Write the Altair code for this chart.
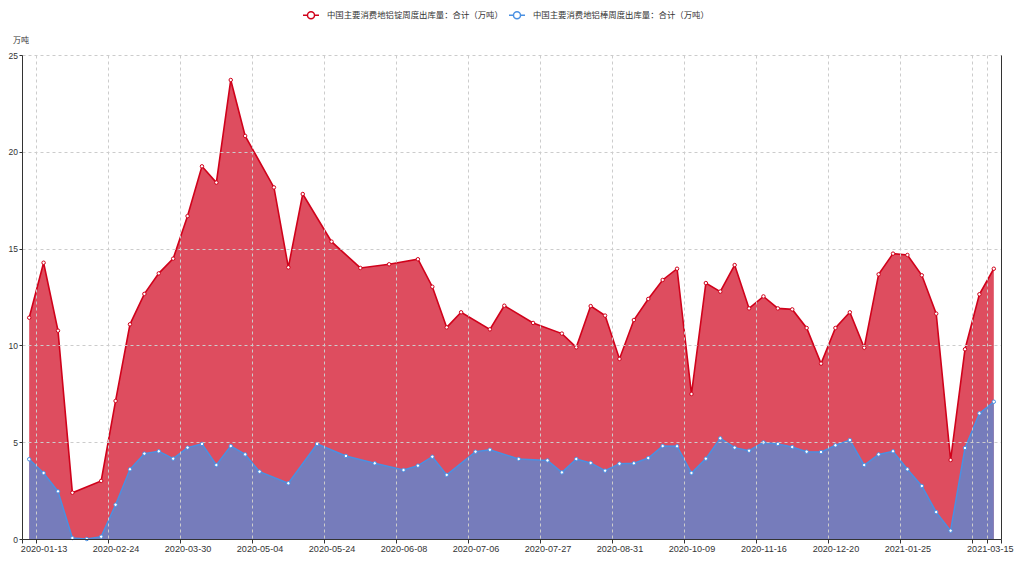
import altair as alt
import pandas as pd

ingot = [11.43, 14.27, 10.76, 2.39, None, 3.00, 7.13, 11.09, 12.66, 13.72,
         14.48, 16.68, 19.25, 18.41, 23.71, 20.82, None, 18.16, 14.03, 17.82,
         None, 15.36, None, 14.00, None, 14.19, None, 14.45, 13.03, 10.93,
         11.71, None, 10.83, 12.05, None, 11.16, None, 10.61, 9.90, 12.03,
         11.54, 9.30, 11.31, 12.40, 13.38, 13.96, 7.49, 13.22, 12.78, 14.15,
         11.91, 12.53, 11.91, 11.86, 10.90, 9.06, 10.90, 11.71, 9.88, 13.67,
         14.74, 14.67, 13.62, 11.64, 4.08, 9.80, 12.64, 13.96]
rod = [4.12, 3.41, 2.46, 0.05, 0.00, 0.12, 1.77, 3.60, 4.41, 4.53,
       4.15, 4.72, 4.91, 3.82, 4.80, 4.37, 3.48, None, 2.88, None,
       4.91, None, 4.29, None, 3.91, None, 3.56, 3.79, 4.25, 3.31,
       None, 4.51, 4.61, None, 4.13, None, 4.06, 3.44, 4.13, 3.93,
       3.53, 3.89, 3.91, 4.18, 4.80, 4.79, 3.41, 4.15, 5.20, 4.72,
       4.56, 4.99, 4.91, 4.75, 4.51, 4.49, 4.84, 5.11, 3.82, 4.37,
       4.53, 3.60, 2.74, 1.39, 0.43, 4.70, 6.49, 7.09]

label_idx = [1, 6, 11, 16, 21, 26, 31, 36, 41, 46, 51, 56, 61, 67]
label_txt = ["2020-01-13", "2020-02-24", "2020-03-30", "2020-05-04", "2020-05-24",
             "2020-06-08", "2020-07-06", "2020-07-27", "2020-08-31", "2020-10-09",
             "2020-11-16", "2020-12-20", "2021-01-25", "2021-03-15"]
tick_idx = [1, 6, 11, 16, 21, 26, 31, 36, 41, 46, 51, 56, 61, 66, 67]

s_ingot = "中国主要消费地铝锭周度出库量：合计（万吨）"
s_rod = "中国主要消费地铝棒周度出库量：合计（万吨）"
RED = "#d0021b"
BLUE = "#4a90e2"
FONT = "Liberation Sans, Noto Sans CJK SC, sans-serif"
CJK = "Noto Sans CJK SC, sans-serif"

df = pd.DataFrame({"idx": list(range(len(ingot))), "ingot": ingot, "rod": rod})

n = len(ingot)
xscale = alt.Scale(domain=[-0.5, n - 0.5], nice=False, zero=False)
yscale = alt.Scale(domain=[0, 25], nice=False)

tick_pos = [-0.5] + [i - 0.5 for i in tick_idx] + [n - 0.5]
label_expr = "[" + ",".join("'%s'" % t for t in label_txt) + "][indexof([" + \
    ",".join(str(i) for i in label_idx) + "], datum.value)]"

base = alt.Chart(df)

x_grid_axis = alt.Axis(values=tick_pos, grid=True, gridDash=[3, 3], gridColor="#cccccc",
                       ticks=True, tickSize=4, tickColor="#333333", labels=False,
                       domain=True, domainColor="#333333", title=None, orient="bottom",
                       zindex=1)
y_left_axis = alt.Axis(values=[0, 5, 10, 15, 20, 25], grid=True, gridDash=[3, 3],
                       gridColor="#cccccc", tickSize=3, tickColor="#333333",
                       labelPadding=1.5, labelFontSize=8.5, labelColor="#333333",
                       labelFont=FONT, domainColor="#333333", orient="left", zindex=1,
                       title="万吨", titleAngle=0, titleX=-1.5, titleY=-15,
                       titleAlign="center", titleBaseline="middle", titleFontSize=8,
                       titleFontWeight="normal", titleColor="#333333", titleFont=CJK)

red_area = base.transform_filter("datum.ingot != null").mark_area(
    color=RED, opacity=0.7).encode(
    x=alt.X("idx:Q", scale=xscale, axis=x_grid_axis),
    y=alt.Y("ingot:Q", scale=yscale, axis=y_left_axis),
)
blue_area = base.transform_filter("datum.rod != null").mark_area(
    color=BLUE, opacity=0.7).encode(
    x=alt.X("idx:Q", scale=xscale, axis=None),
    y=alt.Y("rod:Q", scale=yscale, axis=None),
)

legend_path = ("M-1,0L-0.44,0M0.44,0L1,0M0.44,0A0.44,0.44 0 1,1 -0.44,0"
               "A0.44,0.44 0 1,1 0.44,0Z")
stroke_enc = alt.Stroke(
    "series:N",
    scale=alt.Scale(domain=[s_ingot, s_rod], range=[RED, BLUE]),
    legend=alt.Legend(title=None, orient="none", legendX=280, legendY=-49,
                      direction="horizontal", symbolType=legend_path, symbolSize=256,
                      symbolStrokeWidth=1.5, symbolFillColor="white",
                      labelFontSize=8.4, labelFont=CJK, labelColor="#333333",
                      labelLimit=0, labelOffset=7, columnPadding=3),
)

red_line = base.transform_filter("datum.ingot != null").transform_calculate(
    series="'%s'" % s_ingot).mark_line(strokeWidth=1.6).encode(
    x=alt.X("idx:Q", scale=xscale, axis=None),
    y=alt.Y("ingot:Q", scale=yscale, axis=None),
    stroke=stroke_enc,
)
blue_line = base.transform_filter("datum.rod != null").transform_calculate(
    series="'%s'" % s_rod).mark_line(strokeWidth=1.5).encode(
    x=alt.X("idx:Q", scale=xscale, axis=None),
    y=alt.Y("rod:Q", scale=yscale, axis=None),
    stroke=stroke_enc,
)
red_pts = base.transform_filter("datum.ingot != null").mark_point(
    shape="circle", filled=False, fill="white", fillOpacity=1, stroke=RED,
    strokeWidth=1, size=12, opacity=1).encode(
    x=alt.X("idx:Q", scale=xscale, axis=None),
    y=alt.Y("ingot:Q", scale=yscale, axis=None),
)
last_label = "datum.value == %d" % label_idx[-1]
blue_pts = base.transform_filter("datum.rod != null").mark_point(
    shape="circle", filled=False, fill="white", fillOpacity=1, stroke=BLUE,
    strokeWidth=1, size=12, opacity=1).encode(
    x=alt.X("idx:Q", scale=xscale,
            axis=alt.Axis(values=label_idx, labelExpr=label_expr, grid=False, ticks=False,
                          domain=False, labelFontSize=9.1, labelColor="#333333",
                          labelFont=FONT, labelPadding=5, labelFlush=False,
                          labelOffset={"condition": {"test": last_label, "value": -4},
                                       "value": 0},
                          labelOverlap=False, title=None, orient="bottom")),
    y=alt.Y("rod:Q", scale=yscale,
            axis=alt.Axis(orient="right", grid=False, ticks=False, labels=False,
                          domain=True, domainColor="#333333", title=None, zindex=1)),
)

chart = alt.layer(red_area, blue_area, red_line, blue_line, red_pts, blue_pts).resolve_axis(
    x="independent", y="independent"
).properties(
    width=979, height=484,
    autosize=alt.AutoSizeParams(type="none"),
    padding={"left": 14, "top": 47, "right": 15, "bottom": 20},
).configure_view(stroke=None)

chart.save("out.html", embed_options={"renderer": "svg", "actions": False})
